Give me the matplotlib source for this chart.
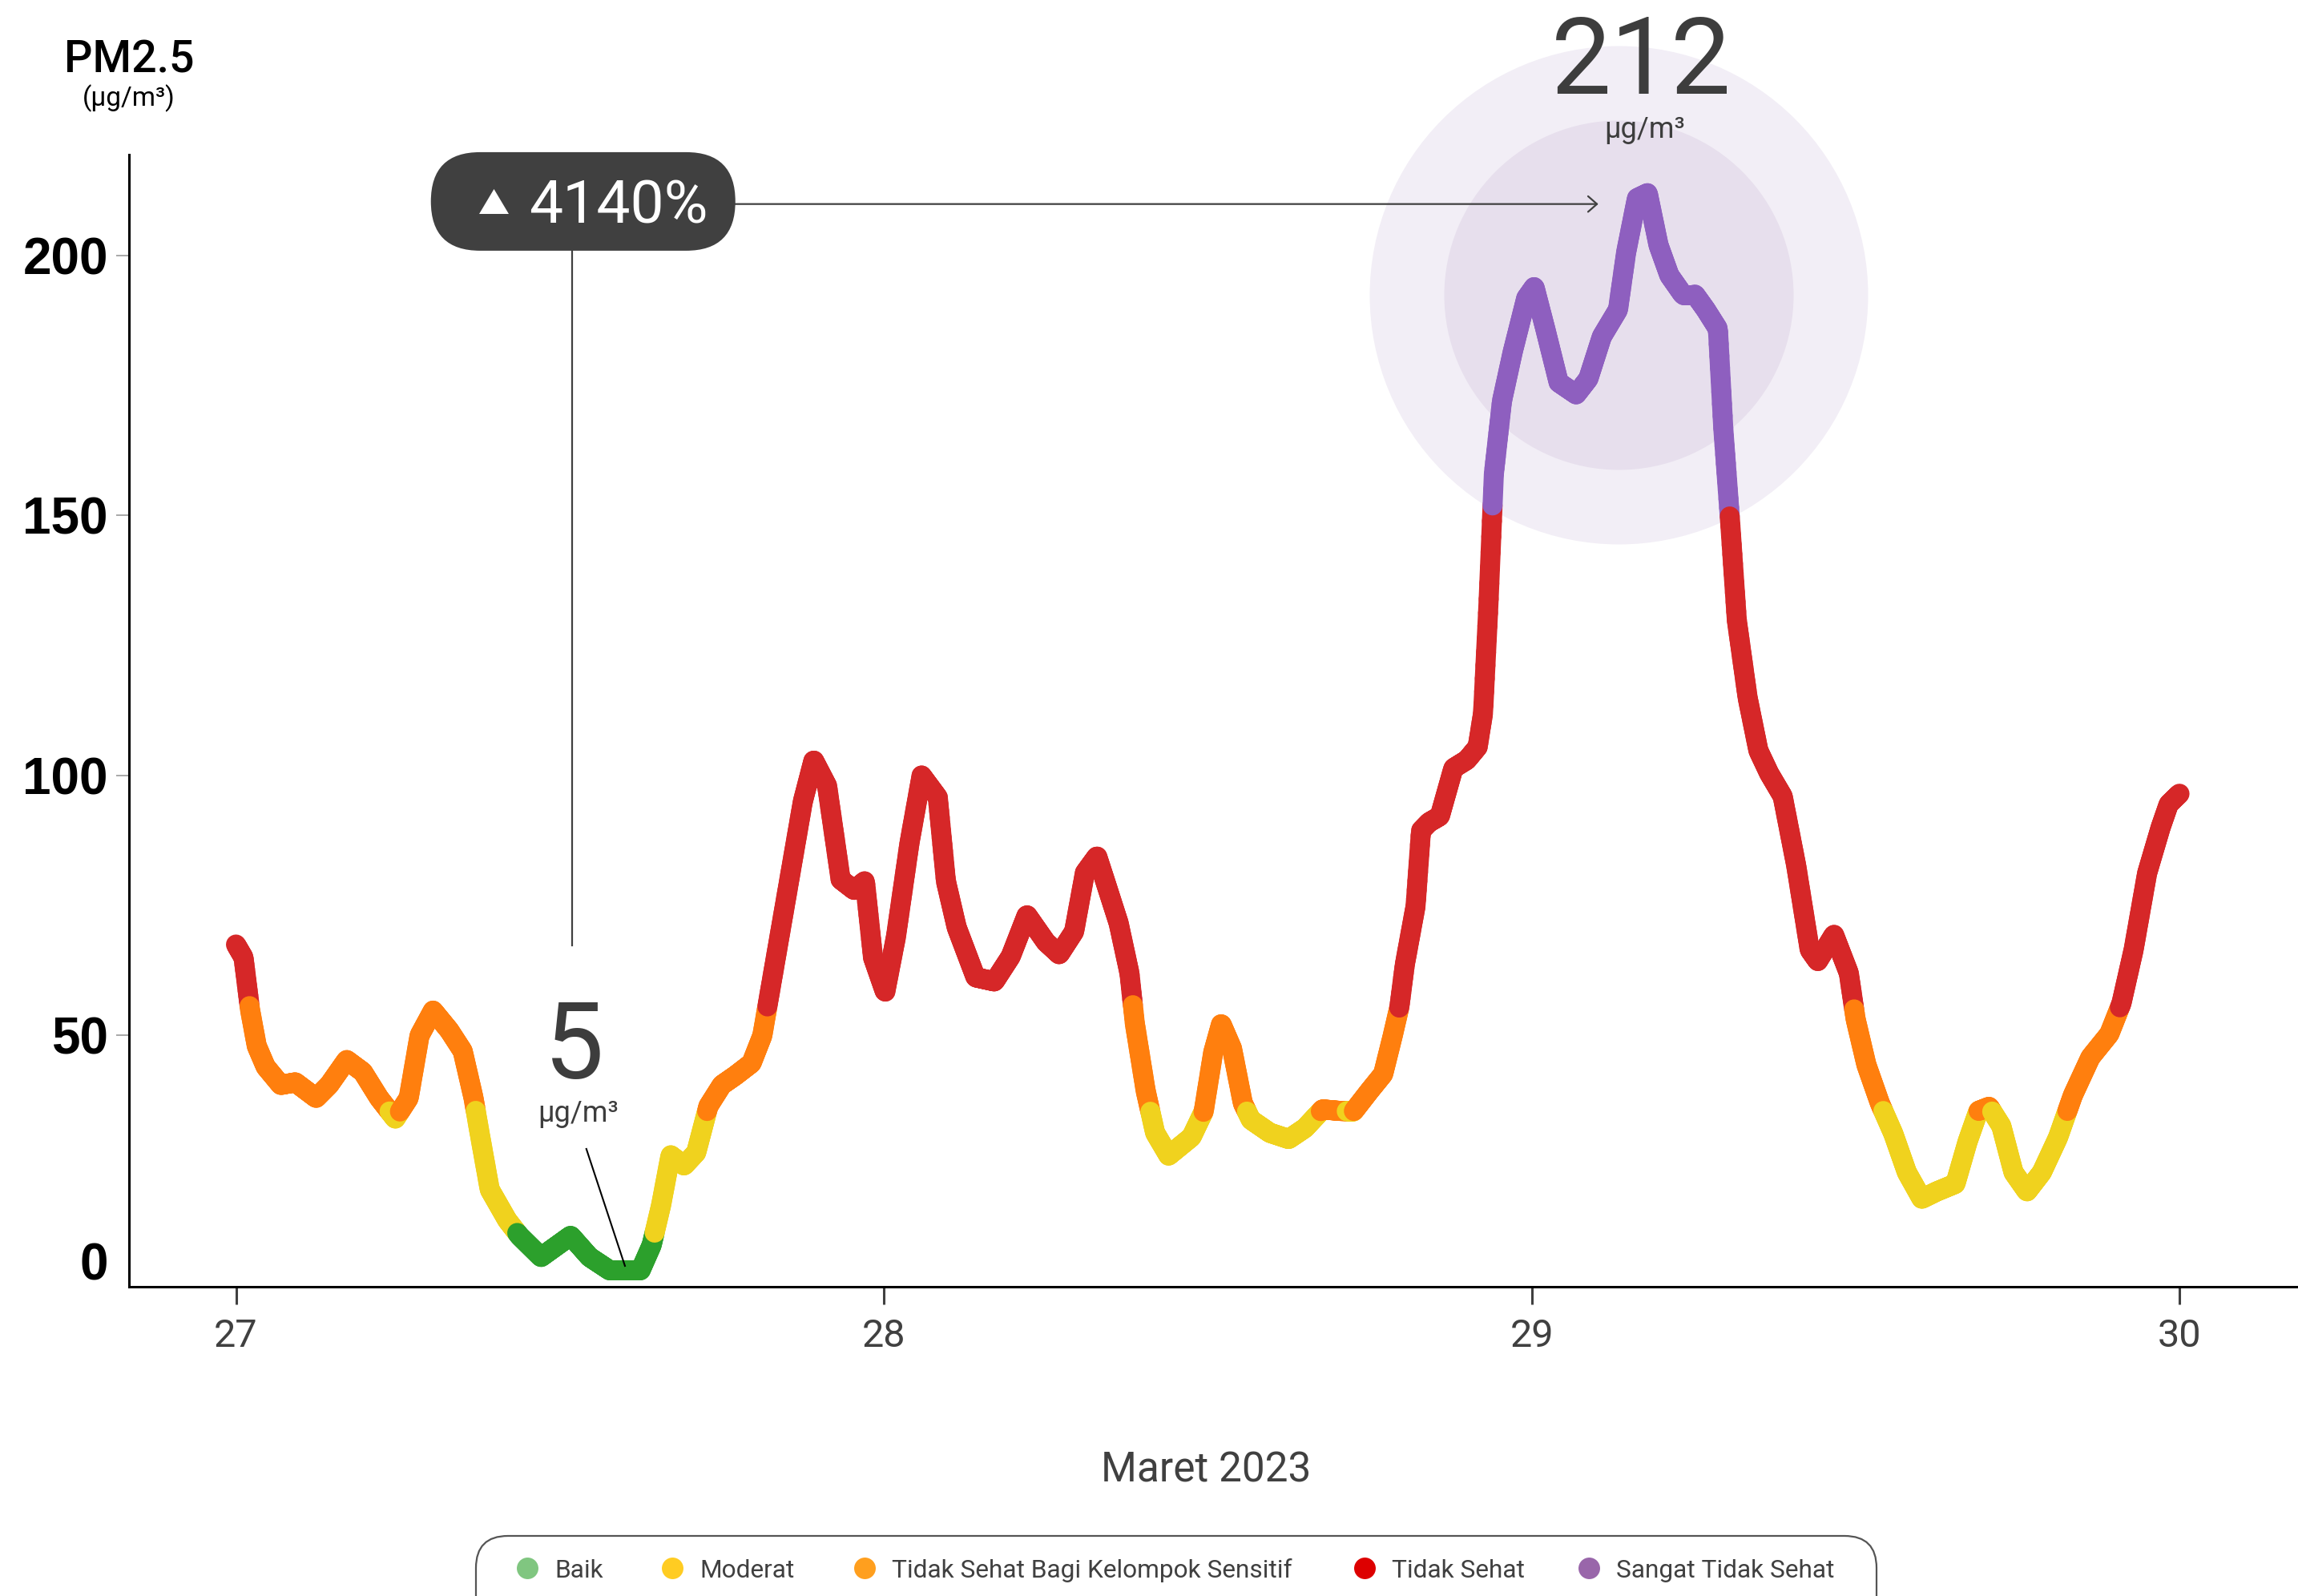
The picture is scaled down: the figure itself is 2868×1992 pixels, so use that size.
import matplotlib

matplotlib.use("Agg")
import matplotlib.pyplot as plt
import numpy as np
from matplotlib.collections import LineCollection
from matplotlib.patches import FancyBboxPatch
from matplotlib.transforms import ScaledTranslation

# PM2.5 trace, hours since 27 Maret 00:00
hours = [
    0.0, 0.28, 0.52, 0.77, 1.1, 1.66, 2.2, 2.97, 3.45, 4.1, 4.7, 5.3, 5.9, 6.4,
    6.8, 7.3, 7.9, 8.4, 8.8, 9.0, 9.4, 10.05, 10.5, 11.3, 12.4, 13.1, 13.8, 15.0,
    15.4, 15.75, 16.1, 16.6, 17.05, 17.5, 18.0, 18.5, 19.1, 19.5, 19.7, 20.0,
    20.5, 21.0, 21.4, 21.9, 22.4, 22.9, 23.3, 23.6, 24.05, 24.45, 24.95, 25.4,
    26.0, 26.3, 26.7, 27.4, 28.1, 28.7, 29.3, 30.0, 30.5, 31.05, 31.45, 31.9,
    32.2, 32.7, 33.1, 33.3, 33.7, 34.05, 34.55, 35.4, 35.85, 36.2, 36.5, 36.9,
    37.3, 37.6, 38.3, 39.0, 39.6, 40.25, 40.9, 41.4, 42.0, 42.5, 42.85, 43.1,
    43.3, 43.7, 43.9, 44.2, 44.6, 45.1, 45.6, 46.0, 46.2, 46.4, 46.6, 46.9,
    47.3, 47.8, 48.1, 48.5, 49.0, 49.65, 50.1, 50.6, 51.2, 51.5, 51.9, 52.3,
    52.7, 53.1, 53.6, 54.05, 54.45, 54.9, 55.1, 55.35, 55.6, 56.0, 56.4, 56.8,
    57.3, 57.8, 58.3, 58.6, 59.2, 59.75, 60.0, 60.4, 60.9, 61.4, 61.9, 62.45,
    63.0, 63.7, 64.15, 64.55, 64.95, 65.4, 65.85, 66.35, 66.9, 67.5, 68.05,
    68.7, 69.4, 69.85, 70.3, 70.8, 71.3, 71.6, 72.0,
]
pm25 = [
    67.5, 65, 55, 48, 44, 40.5, 41, 38, 40.5, 45.3, 43, 38, 34, 38,
    50, 54.8, 51, 47, 38, 32, 20.4, 14.5, 11.5, 7.4, 11.5, 7.4, 5, 5,
    9.7, 17.4, 27, 25, 27.5, 36.4, 40.5, 42.3, 44.7, 50, 56, 65,
    80, 95, 103, 98, 80, 78, 79.7, 65, 58.3, 69, 87, 100,
    95.8, 79.7, 70.8, 61.2, 60.4, 65.2, 73.2, 68, 65.6, 70, 81.3, 84.5,
    79.7, 71.6, 62, 52.3, 39.4, 31.3, 26.9, 30.5, 35.4, 46.7, 52.3, 47.5,
    37, 33.8, 31.3, 30.1, 32.2, 35.8, 35.5, 35.4, 39.4, 42.6, 49.9, 55.5,
    63.6, 74.9, 89.4, 91, 92.2, 101.4, 103, 105.5, 112, 133, 158, 172,
    181.5, 191.8, 194, 186, 175.6, 173.3, 176.3, 184.4, 189.6, 200.6, 211, 212,
    202, 196.2, 192.5, 192.5, 189.6, 185.9, 166.7, 149, 129.9, 115, 104.8, 100.4,
    96, 82.7, 66.5, 64.3, 69.4, 62, 53.2, 44.4, 37, 31.1, 23.7, 18.6,
    20, 21.5, 29.6, 35.5, 36.3, 32.6, 23.7, 20, 23.7, 30.4, 38.5,
    45.8, 50.3, 56.2, 66.5, 81.2, 90, 94.5, 96.5,
]

day_ticks = [0, 24, 48, 72]
day_labels = ["27", "28", "29", "30"]
y_ticks = [0, 50, 100, 150, 200]

# category breakpoints (PM2.5, µg/m³)
cat_names = ["Baik", "Moderat", "Tidak Sehat Bagi Kelompok Sensitif",
             "Tidak Sehat", "Sangat Tidak Sehat"]
cat_bounds = [12.05, 35.45, 55.45, 150.45]
line_colors = ["#2ca02c", "#f0d21e", "#ff7f0e", "#d62728", "#8e5fbf"]
legend_colors = ["#80c680", "#ffcc22", "#ff9f1e", "#dd0000", "#9966aa"]

low_value = 5
peak_value = 212
change_pct = round((peak_value - low_value) / low_value * 100)

W, H, DPI = 2868, 1992, 200
DARK = "#404040"

plt.rcParams["font.family"] = ["Roboto", "DejaVu Sans"]

fig = plt.figure(figsize=(W / DPI, H / DPI), dpi=DPI)
ax = fig.add_axes([161 / W, 1 - 1617 / H, 1 - 161 / W, (1617 - 193) / H])
y_top = 219.4

# --- coloured line -------------------------------------------------------
t = np.asarray(hours, float)
v = np.asarray(pm25, float)
tf = np.linspace(t[0], t[-1], 3000)
vf = np.interp(tf, t, v)
pts = np.column_stack([tf, vf])
segs = np.stack([pts[:-1], pts[1:]], axis=1)
cats = np.digitize((vf[:-1] + vf[1:]) / 2, cat_bounds)
lc = LineCollection(segs, colors=[line_colors[c] for c in cats],
                    linewidths=9, capstyle="round", zorder=3)
ax.add_collection(lc)

# --- peak highlight circles ----------------------------------------------
circ_xy = (51.22, 192.4)
for diam_px, col, z in [(622, "#f2eef6", 1), (436, "#e7dfed", 2)]:
    ax.scatter([circ_xy[0]], [circ_xy[1]], s=(diam_px / DPI * 72) ** 2,
               color=col, linewidths=0, zorder=z, clip_on=False)

ax.text(52.05, 231.1, str(peak_value), ha="center", va="baseline",
        fontsize=48, color="#3d3d3d", clip_on=False, zorder=6)
ax.text(52.2, 222.6, "µg/m³", ha="center", va="baseline",
        fontsize=13, color="#3d3d3d", clip_on=False, zorder=6)

# --- low value label -----------------------------------------------------
ax.text(12.53, 41.8, str(low_value), ha="center", va="baseline",
        fontsize=48, color="#3d3d3d", zorder=6)
ax.text(12.67, 33.4, "µg/m³", ha="center", va="baseline",
        fontsize=13, color="#3d3d3d", zorder=6)
ax.plot([12.98, 14.41], [28.2, 5.7], color="black", lw=0.75, zorder=4)

# --- change pill ---------------------------------------------------------
pill_xy = (12.86, 210.4)
pill_tr = fig.dpi_scale_trans + ScaledTranslation(*pill_xy, ax.transData)
pill = FancyBboxPatch((-0.95, -0.3075), 1.9, 0.615,
                      boxstyle="round,pad=0,rounding_size=0.3075",
                      fc=DARK, ec="none", transform=pill_tr,
                      clip_on=False, zorder=5)
ax.add_patch(pill)
tri = [(-1, -0.84), (1, -0.84), (0, 0.84)]
ax.plot([9.53], [210.4], marker=tri, ms=13.3, color="white", mew=0,
        clip_on=False, zorder=6)
ax.text(10.85, 206.2, f"{change_pct}%", ha="left", va="baseline",
        fontsize=27, color="white", clip_on=False, zorder=6)

ax.plot([12.45, 12.45], [pill_xy[1], 67.3], color=DARK, lw=0.8, zorder=4)
ax.annotate("", xy=(50.47, 209.9), xytext=(pill_xy[0], 209.9),
            arrowprops=dict(arrowstyle="->,head_length=0.4,head_width=0.35",
                            color=DARK, lw=0.8, shrinkA=0, shrinkB=0,
                            mutation_scale=10),
            zorder=4, annotation_clip=False)

# --- axes ----------------------------------------------------------------
ax.set_xlim(-3.963, 76.39)
ax.set_ylim(0, y_top)
for s in ("top", "right"):
    ax.spines[s].set_visible(False)
for s in ("left", "bottom"):
    ax.spines[s].set_linewidth(1.1)
    ax.spines[s].set_color("black")
ax.spines["bottom"].set_position(("data", 1.7))
ax.spines["left"].set_bounds(1.7, y_top)

ax.set_xticks(day_ticks, day_labels)
ax.tick_params(axis="x", direction="out", length=8, width=1.1, color=DARK,
               pad=6, labelsize=17.5, labelcolor=DARK)
ax.set_yticks(y_ticks, [str(y) for y in y_ticks])
ax.tick_params(axis="y", direction="out", length=5.8, width=0.6,
               color="#999999", pad=3.6)
for lbl in ax.get_yticklabels():
    lbl.set_fontfamily("Liberation Sans")
    lbl.set_fontweight("bold")
    lbl.set_fontsize(23)
    lbl.set_color("black")
zero_tick = ax.yaxis.get_major_ticks()[0]
zero_tick.tick1line.set_visible(False)
zero_tick.label1.set_transform(
    zero_tick.label1.get_transform()
    + ScaledTranslation(0, 43 / DPI, fig.dpi_scale_trans))

ax.set_xlabel("Maret 2023", fontsize=18.5, color=DARK)
ax.xaxis.set_label_coords((1505 - 161) / (W - 161), (1617 - 1849) / (1617 - 193))
ax.xaxis.label.set_va("baseline")

# --- overlay in pixel coords: axis title + legend ------------------------
ov = fig.add_axes([0, 0, 1, 1])
ov.set_xlim(0, W)
ov.set_ylim(H, 0)
ov.set_axis_off()

ov.text(161, 90, "PM2.5", ha="center", va="baseline", fontsize=20,
        color="black", fontweight="medium")
ov.text(161, 132, "(µg/m³)", ha="center", va="baseline", fontsize=12, color="black")

ov.add_patch(FancyBboxPatch((594, 1917), 2342 - 594, 130,
                            boxstyle="round,pad=0,rounding_size=40",
                            fc="white", ec="#555555", lw=0.8))
legend_x = [658, 839, 1079, 1703, 1983]
for x, name, col in zip(legend_x, cat_names, legend_colors):
    ov.plot([x], [1957], "o", ms=9.7, color=col, mew=0)
    ov.text(x + 34, 1957, name, ha="left", va="center_baseline",
            fontsize=11.4, color=DARK)

fig.savefig("out.png", dpi=DPI)
